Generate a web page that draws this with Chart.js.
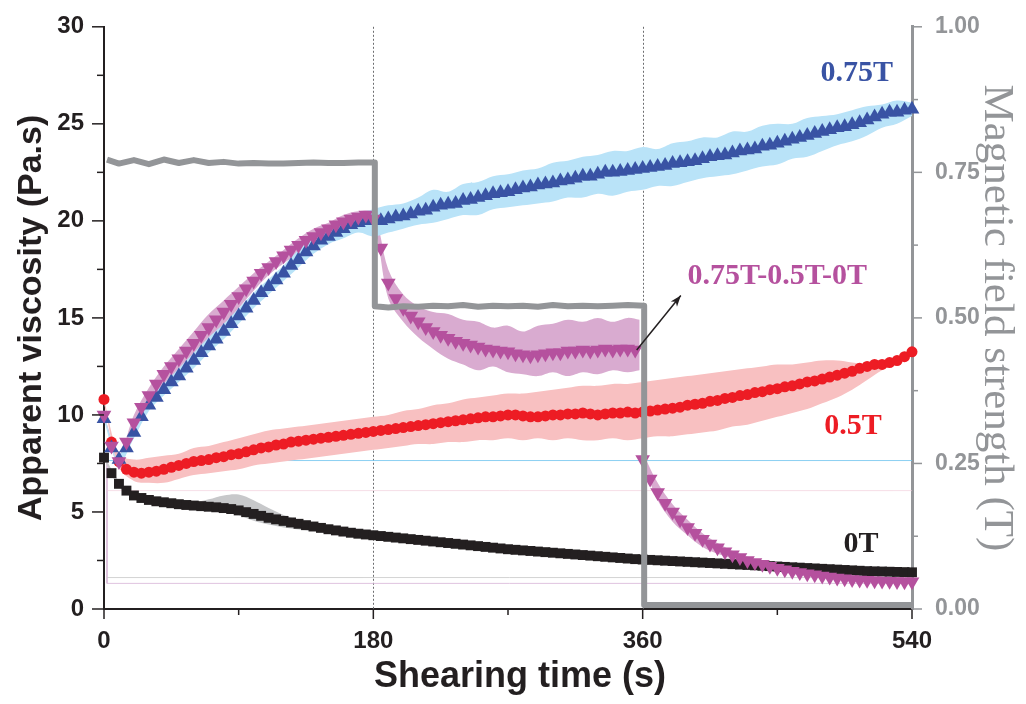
<!DOCTYPE html>
<html>
<head>
<meta charset="utf-8">
<script src="https://cdn.jsdelivr.net/npm/chart.js@4.4.0/dist/chart.umd.min.js"></script>
<style>
  html, body { margin: 0; padding: 0; background: #fff; }
  #wrap { width: 1026px; height: 704px; position: relative; }
</style>
</head>
<body>
<div id="wrap"><canvas id="viscChart"></canvas></div>
<script>
// sampling grid (s)
const times = Array.from({ length: 109 }, (_, i) => i * 5);
const bandTimes = Array.from({ length: 55 }, (_, i) => i * 10);

// axis ticks
const xTickValues = [0, 180, 360, 540];
const xMinorValues = [90, 270, 450];
const yTickValues = [0, 5, 10, 15, 20, 25, 30];
const yMinorValues = [2.5, 7.5, 12.5, 17.5, 22.5, 27.5];
const fieldTickValues = [0, 0.25, 0.5, 0.75, 1];
const fieldMinorValues = [0.125, 0.375, 0.625, 0.875];
const switchTimes = [180, 360];

// 0T
const visc0T = [
  7.8, 7.0, 6.45, 6.1, 5.85, 5.72, 5.62, 5.55, 5.5, 5.45,
  5.4, 5.36, 5.33, 5.3, 5.27, 5.24, 5.2, 5.15, 5.08, 4.99,
  4.9, 4.8, 4.7, 4.62, 4.54, 4.46, 4.39, 4.32, 4.25, 4.18,
  4.11, 4.05, 3.99, 3.93, 3.88, 3.84, 3.8, 3.76, 3.72, 3.68,
  3.64, 3.6, 3.56, 3.52, 3.48, 3.44, 3.4, 3.36, 3.32, 3.28,
  3.24, 3.2, 3.16, 3.12, 3.08, 3.05, 3.02, 2.99, 2.96, 2.93,
  2.9, 2.87, 2.84, 2.81, 2.78, 2.75, 2.72, 2.69, 2.66, 2.63,
  2.6, 2.57, 2.55, 2.53, 2.51, 2.49, 2.47, 2.45, 2.43, 2.41,
  2.39, 2.37, 2.35, 2.33, 2.31, 2.29, 2.27, 2.25, 2.23, 2.21,
  2.19, 2.17, 2.15, 2.13, 2.11, 2.09, 2.07, 2.05, 2.03, 2.01,
  1.99, 1.97, 1.95, 1.94, 1.93, 1.92, 1.91, 1.9, 1.89
];
// 0.5T
const visc05T = [
  10.8, 8.6, 7.6, 7.2, 7.05, 7.0, 7.05, 7.1, 7.2, 7.3,
  7.4, 7.5, 7.6, 7.65, 7.7, 7.8, 7.85, 7.95, 8.0, 8.1,
  8.2, 8.3, 8.35, 8.45, 8.5, 8.6, 8.65, 8.7, 8.75, 8.8,
  8.85, 8.9, 8.95, 9.0, 9.05, 9.1, 9.15, 9.2, 9.25, 9.3,
  9.35, 9.4, 9.45, 9.5, 9.55, 9.6, 9.65, 9.7, 9.75, 9.8,
  9.85, 9.9, 9.9, 9.95, 10.0, 10.0, 9.95, 9.9, 9.9, 9.95,
  10.0, 10.0, 10.05, 10.05, 10.1, 10.05, 10.0, 10.05, 10.1, 10.1,
  10.15, 10.1, 10.15, 10.2, 10.25, 10.3, 10.35, 10.4, 10.5, 10.55,
  10.6, 10.7, 10.75, 10.85, 10.9, 11.0, 11.05, 11.15, 11.2, 11.3,
  11.35, 11.45, 11.5, 11.6, 11.7, 11.75, 11.85, 11.95, 12.05, 12.15,
  12.25, 12.4, 12.5, 12.6, 12.6, 12.7, 12.8, 13.0, 13.25
];
// 0.75T
const visc075T = [
  9.8, 8.3, 7.7, 8.3, 9.1, 9.9, 10.5, 10.9, 11.3, 11.7,
  12.0, 12.4, 12.8, 13.2, 13.55, 13.9, 14.3, 14.7, 15.1, 15.5,
  15.9, 16.3, 16.6, 16.95, 17.3, 17.7, 18.0, 18.4, 18.7, 19.0,
  19.2, 19.4, 19.6, 19.8, 19.9, 20.0, 20.05, 20.0, 20.1, 20.2,
  20.25, 20.35, 20.5, 20.55, 20.7, 20.8, 20.85, 20.9, 21.05, 21.1,
  21.2, 21.3, 21.4, 21.45, 21.5, 21.6, 21.7, 21.75, 21.85, 21.9,
  21.95, 22.05, 22.1, 22.2, 22.3, 22.3, 22.4, 22.5, 22.5, 22.55,
  22.6, 22.65, 22.7, 22.75, 22.8, 22.85, 22.95, 23.0, 23.05, 23.1,
  23.2, 23.3, 23.35, 23.4, 23.5, 23.6, 23.65, 23.7, 23.85, 23.9,
  24.0, 24.1, 24.2, 24.3, 24.4, 24.5, 24.6, 24.7, 24.8, 24.85,
  24.95, 25.05, 25.2, 25.35, 25.5, 25.6, 25.6, 25.7, 25.75
];
// 0.75T-0.5T-0T
const viscSteps = [
  10.0, 8.4, 7.6, 8.6, 9.6, 10.4, 11.0, 11.6, 12.1, 12.5,
  12.9, 13.3, 13.7, 14.1, 14.5, 14.9, 15.3, 15.7, 16.1, 16.5,
  16.9, 17.3, 17.6, 17.9, 18.2, 18.5, 18.75, 19.0, 19.2, 19.4,
  19.6, 19.8, 19.95, 20.1, 20.2, 20.3, 20.1, 18.6, 16.8, 16.0,
  15.5, 15.1, 14.8, 14.5, 14.3, 14.1, 13.95, 13.8, 13.7, 13.6,
  13.5, 13.4, 13.35, 13.3, 13.25, 13.15, 13.1, 13.05, 13.1, 13.15,
  13.2, 13.2, 13.3, 13.3, 13.35, 13.3, 13.35, 13.4, 13.35, 13.4,
  13.4, 13.35, 7.7, 6.7, 6.0, 5.45, 5.0, 4.6, 4.2, 3.9,
  3.6, 3.35, 3.15, 2.95, 2.8, 2.65, 2.5, 2.4, 2.3, 2.2,
  2.1, 2.02, 1.95, 1.88, 1.82, 1.76, 1.7, 1.65, 1.6, 1.56,
  1.52, 1.5, 1.48, 1.46, 1.44, 1.43, 1.42, 1.41, 1.4
];

// error bands (every 10 s)
const band0THi = [
  7.9, 6.6, 5.95, 5.72, 5.6, 5.52, 5.5, 5.65, 5.85, 5.9, 5.6,
  5.2, 4.85, 4.6, 4.4, 4.25, 4.1, 3.95, 3.88, 3.8, 3.72, 3.64,
  3.56, 3.48, 3.4, 3.32, 3.24, 3.16, 3.1, 3.04, 2.98, 2.92, 2.86,
  2.8, 2.74, 2.68, 2.63, 2.59, 2.55, 2.51, 2.47, 2.43, 2.39, 2.35,
  2.31, 2.27, 2.23, 2.19, 2.15, 2.11, 2.07, 2.03, 2.01, 1.99, 1.97
];
const band0TLo = [
  7.7, 6.3, 5.75, 5.5, 5.4, 5.3, 5.2, 5.15, 5.05, 4.85, 4.55,
  4.35, 4.2, 4.1, 4.02, 3.95, 3.85, 3.75, 3.72, 3.64, 3.56, 3.48,
  3.4, 3.32, 3.24, 3.16, 3.08, 3.0, 2.94, 2.88, 2.82, 2.76, 2.7,
  2.64, 2.58, 2.52, 2.47, 2.43, 2.39, 2.35, 2.31, 2.27, 2.23, 2.19,
  2.15, 2.11, 2.07, 2.03, 1.99, 1.95, 1.91, 1.87, 1.85, 1.83, 1.81
];
const band05THi = [
  10.8, 8.0, 7.7, 7.8, 7.9, 8.0, 8.3, 8.4, 8.6, 8.8, 9.0,
  9.2, 9.3, 9.4, 9.5, 9.6, 9.7, 9.8, 9.9, 10.0, 10.2, 10.3,
  10.5, 10.6, 10.8, 10.9, 11.0, 11.1, 11.1, 11.2, 11.3, 11.4, 11.5,
  11.5, 11.6, 11.6, 11.7, 11.8, 11.9, 12.0, 12.1, 12.2, 12.3, 12.4,
  12.5, 12.6, 12.6, 12.7, 12.8, 12.8, 12.7, 12.6, 12.7, 12.9, 13.3
];
const band05TLo = [
  10.6, 7.3, 6.6, 6.5, 6.5, 6.7, 6.9, 7.0, 7.1, 7.2, 7.4,
  7.5, 7.6, 7.7, 7.8, 7.9, 8.0, 8.1, 8.2, 8.3, 8.4, 8.5,
  8.5, 8.6, 8.6, 8.7, 8.7, 8.8, 8.7, 8.8, 8.7, 8.8, 8.7,
  8.7, 8.8, 8.7, 8.8, 8.9, 8.9, 9.0, 9.1, 9.2, 9.4, 9.5,
  9.7, 9.9, 10.1, 10.3, 10.6, 10.9, 11.3, 11.8, 12.3, 12.7, 13.2
];
const band075THi = [
  9.9, 8.0, 9.5, 10.8, 11.6, 12.4, 13.2, 14.0, 14.7, 15.5, 16.3,
  17.0, 17.7, 18.5, 19.1, 19.7, 20.1, 20.4, 20.6, 20.8, 20.9, 21.2,
  21.6, 21.5, 21.9, 22.0, 22.3, 22.4, 22.6, 22.7, 23.0, 23.1, 23.3,
  23.4, 23.6, 23.6, 23.8, 23.7, 24.0, 24.1, 24.3, 24.3, 24.6, 24.6,
  24.9, 25.0, 25.0, 25.3, 25.4, 25.5, 25.7, 25.9, 26.0, 26.2, 26.1
];
const band075TLo = [
  9.7, 7.5, 8.8, 10.2, 11.0, 11.7, 12.4, 13.2, 13.9, 14.7, 15.5,
  16.2, 16.9, 17.6, 18.3, 18.8, 19.1, 19.4, 19.2, 19.4, 19.6, 19.8,
  19.9, 20.1, 20.3, 20.3, 20.6, 20.7, 20.8, 20.9, 21.0, 21.2, 21.2,
  21.4, 21.3, 21.5, 21.6, 21.8, 21.8, 22.0, 22.2, 22.3, 22.4, 22.6,
  22.8, 22.9, 23.2, 23.3, 23.6, 23.9, 24.1, 24.4, 24.8, 25.0, 25.4
];
const stepBandTimesA = [
  0, 10, 20, 30, 40, 50, 60, 70, 80, 90, 100,
  110, 120, 130, 140, 150, 160, 170, 180, 190, 200, 210,
  220, 230, 240, 250, 260, 270, 280, 290, 300, 310, 320,
  330, 340, 350, 358
];
const stepBandHiA = [
  10.0, 8.0, 10.0, 11.4, 12.5, 13.4, 14.3, 15.2, 15.9, 16.6, 17.3,
  17.9, 18.5, 19.1, 19.6, 19.9, 20.3, 20.5, 20.4, 17.5, 16.2, 15.6,
  15.3, 15.2, 14.9, 14.8, 14.5, 14.6, 14.3, 14.6, 14.7, 14.9, 14.8,
  15.0, 14.8, 15.0, 14.9
];
const stepBandLoA = [
  10.0, 7.4, 9.2, 10.6, 11.6, 12.3, 13.0, 13.8, 14.6, 15.5, 16.4,
  17.2, 17.8, 18.3, 18.7, 19.2, 19.5, 19.7, 19.7, 16.0, 14.8, 14.0,
  13.4, 12.9, 12.6, 12.3, 12.5, 12.2, 12.1, 12.0, 12.2, 12.0, 12.2,
  12.1, 12.3, 12.2, 12.3
];
const stepBandTimesB = [361, 370, 380, 390, 400, 410, 420, 430, 440, 450, 460, 470, 480, 490, 500, 510, 520, 530, 540];
const stepBandHiB = [7.9, 6.5, 5.4, 4.6, 3.9, 3.4, 3.0, 2.7, 2.45, 2.25, 2.05, 1.9, 1.78, 1.68, 1.6, 1.55, 1.5, 1.47, 1.45];
const stepBandLoB = [7.4, 5.6, 4.5, 3.8, 3.2, 2.85, 2.6, 2.35, 2.15, 1.95, 1.8, 1.7, 1.6, 1.52, 1.45, 1.4, 1.37, 1.35, 1.33];

// applied magnetic field (T), right axis
const fieldTimes = [
  2, 10, 20, 30, 40, 50, 60, 70, 80, 90, 100, 110, 120, 130, 140, 150, 160, 170, 181,
  181, 190, 200, 210, 220, 230, 240, 250, 260, 270, 280, 290, 300, 310, 320, 330, 340, 350, 361,
  361, 370, 380, 390, 400, 410, 420, 430, 440, 450, 460, 470, 480, 490, 500, 510, 520, 530, 540
];
const fieldValues = [
  0.772, 0.765, 0.771, 0.764, 0.772, 0.766, 0.771, 0.766, 0.768, 0.765, 0.766, 0.765, 0.765, 0.766, 0.767, 0.766, 0.766, 0.767, 0.767,
  0.52, 0.518, 0.52, 0.519, 0.521, 0.52, 0.522, 0.519, 0.521, 0.52, 0.521, 0.519, 0.522, 0.52, 0.521, 0.52, 0.521, 0.522, 0.521,
  0.007, 0.007, 0.007, 0.007, 0.007, 0.007, 0.007, 0.007, 0.007, 0.007, 0.007, 0.007, 0.007, 0.007, 0.007, 0.007, 0.007, 0.007, 0.007
];

// faint baseline traces seen in the original
const traceBlueT = [0, 540], traceBlueV = [7.65, 7.65];
const tracePinkT = [2, 540], tracePinkV = [6.1, 6.1];
const traceGreyT = [2, 540], traceGreyV = [1.62, 1.62];
const traceLilacT = [2, 2, 540], traceLilacV = [7.6, 1.32, 1.32];

const seriesLabels = [
  { text: '0.75T', t: 503, v: 27.6, color: '#3953a4' },
  { text: '0.75T-0.5T-0T', t: 450, v: 17.15, color: '#b5519e' },
  { text: '0.5T', t: 500.5, v: 9.4, color: '#ed1c24' },
  { text: '0T', t: 506, v: 3.35, color: '#231f20' }
];
const arrowFrom = { t: 356, v: 13.35 }, arrowTo = { t: 385.5, v: 16.15 };

const pts = (xs, ys) => ys.map((y, i) => ({ x: xs[i], y: y }));

function band(xs, hi, lo, color) {
  return [
    { data: pts(xs, hi), borderWidth: 0, pointRadius: 0, backgroundColor: color, fill: '+1', tension: 0.35, order: 20 },
    { data: pts(xs, lo), borderWidth: 0, pointRadius: 0, fill: false, tension: 0.35, order: 20 }
  ];
}
function markers(ys, color, style, radius, rotation, order) {
  return {
    data: pts(times, ys), showLine: false, pointStyle: style, pointRadius: radius,
    pointRotation: rotation, pointBackgroundColor: color, pointBorderWidth: 0,
    borderColor: color, clip: false, order: order
  };
}
function trace(xs, ys, color) {
  return { data: pts(xs, ys), borderColor: color, borderWidth: 1, pointRadius: 0, fill: false, order: 30 };
}

const FONT_SANS = "'Liberation Sans', Arial, sans-serif";
const FONT_SERIF = "'Liberation Serif', 'Times New Roman', serif";

const decorations = {
  id: 'decorations',
  beforeDatasetsDraw(chart) {
    const { ctx, chartArea: a, scales: { x } } = chart;
    ctx.save();
    ctx.strokeStyle = '#6d6e71';
    ctx.lineWidth = 1;
    ctx.setLineDash([2, 2]);
    switchTimes.forEach(t => {
      const px = Math.round(x.getPixelForValue(t)) + 0.5;
      ctx.beginPath();
      ctx.moveTo(px, a.top);
      ctx.lineTo(px, a.bottom);
      ctx.stroke();
    });
    ctx.restore();
  },
  afterDraw(chart) {
    const { ctx, chartArea: a, scales: { x, y, y1 } } = chart;
    ctx.save();
    // tick marks
    ctx.lineWidth = 1.5;
    ctx.strokeStyle = '#231f20';
    const tick = (x0, y0, x1, y1_) => { ctx.beginPath(); ctx.moveTo(x0, y0); ctx.lineTo(x1, y1_); ctx.stroke(); };
    yTickValues.forEach(v => { const p = y.getPixelForValue(v); tick(a.left - 12, p, a.left, p); });
    yMinorValues.forEach(v => { const p = y.getPixelForValue(v); tick(a.left - 7, p, a.left, p); });
    xTickValues.forEach(t => { const p = x.getPixelForValue(t); tick(p, a.bottom, p, a.bottom + 10); });
    xMinorValues.forEach(t => { const p = x.getPixelForValue(t); tick(p, a.bottom, p, a.bottom + 6); });
    ctx.strokeStyle = '#939598';
    fieldTickValues.forEach(v => { const p = y1.getPixelForValue(v); tick(a.right, p, a.right + 10, p); });
    fieldMinorValues.forEach(v => { const p = y1.getPixelForValue(v); tick(a.right, p, a.right + 6, p); });

    // x axis title
    ctx.fillStyle = '#231f20';
    ctx.font = 'bold 36px ' + FONT_SANS;
    ctx.textAlign = 'center';
    ctx.textBaseline = 'middle';
    ctx.fillText('Shearing time (s)', 520, 677);

    // series labels
    ctx.font = 'bold 30px ' + FONT_SERIF;
    seriesLabels.forEach(l => {
      ctx.fillStyle = l.color;
      ctx.fillText(l.text, x.getPixelForValue(l.t), y.getPixelForValue(l.v));
    });

    // arrow
    const x0 = x.getPixelForValue(arrowFrom.t), y0 = y.getPixelForValue(arrowFrom.v);
    const x1 = x.getPixelForValue(arrowTo.t), yy1 = y.getPixelForValue(arrowTo.v);
    const ang = Math.atan2(yy1 - y0, x1 - x0);
    ctx.strokeStyle = '#231f20';
    ctx.fillStyle = '#231f20';
    ctx.lineWidth = 1.5;
    ctx.beginPath(); ctx.moveTo(x0, y0); ctx.lineTo(x1, yy1); ctx.stroke();
    ctx.beginPath();
    ctx.moveTo(x1, yy1);
    ctx.lineTo(x1 - 11 * Math.cos(ang) + 4 * Math.sin(ang), yy1 - 11 * Math.sin(ang) - 4 * Math.cos(ang));
    ctx.lineTo(x1 - 8 * Math.cos(ang), yy1 - 8 * Math.sin(ang));
    ctx.lineTo(x1 - 11 * Math.cos(ang) - 4 * Math.sin(ang), yy1 - 11 * Math.sin(ang) + 4 * Math.cos(ang));
    ctx.closePath();
    ctx.fill();
    ctx.restore();
  }
};

new Chart(document.getElementById('viscChart'), {
  type: 'line',
  data: {
    datasets: [
      { ...markers(viscSteps, '#b5519e', 'triangle', 8.5, 180, 2), label: '0.75T-0.5T-0T' },
      { data: pts(fieldTimes, fieldValues), yAxisID: 'y1', borderColor: '#939598', borderWidth: 6,
        pointRadius: 0, fill: false, tension: 0, borderJoinStyle: 'round', order: 1, label: 'Magnetic field' },
      { ...markers(visc075T, '#3953a4', 'triangle', 8.5, 0, 3), label: '0.75T' },
      { ...markers(visc05T, '#ed1c24', 'circle', 5.5, 0, 4), label: '0.5T' },
      { ...markers(visc0T, '#231f20', 'rect', 7, 0, 5), label: '0T' },
      ...band(bandTimes, band0THi, band0TLo, '#c7c8ca'),
      ...band(bandTimes, band05THi, band05TLo, '#f8c0c1'),
      ...band(bandTimes, band075THi, band075TLo, '#b9e3f8'),
      ...band(stepBandTimesA, stepBandHiA, stepBandLoA, '#d9abd0'),
      ...band(stepBandTimesB, stepBandHiB, stepBandLoB, '#d9abd0'),
      trace(traceBlueT, traceBlueV, 'rgba(120,200,240,0.85)'),
      trace(tracePinkT, tracePinkV, 'rgba(240,200,215,0.6)'),
      trace(traceGreyT, traceGreyV, 'rgba(200,200,200,0.8)'),
      trace(traceLilacT, traceLilacV, 'rgba(215,180,215,0.8)')
    ]
  },
  options: {
    responsive: true,
    maintainAspectRatio: false,
    devicePixelRatio: 1,
    animation: false,
    layout: { padding: { top: 18, left: 0, right: 0, bottom: 0 } },
    plugins: { legend: { display: false }, tooltip: { enabled: false } },
    scales: {
      x: {
        type: 'linear', min: 0, max: 540,
        afterBuildTicks: s => { s.ticks = xTickValues.map(value => ({ value })); },
        afterFit: s => { s.height = 95; },
        grid: { drawOnChartArea: false, tickLength: 10, color: 'rgba(0,0,0,0)', tickColor: 'rgba(0,0,0,0)' },
        border: { color: '#231f20', width: 2 },
        ticks: { padding: 8, color: '#231f20', maxRotation: 0, autoSkip: false,
                 font: { family: FONT_SANS, weight: 'bold', size: 24 } }
      },
      y: {
        position: 'left', min: 0, max: 30,
        afterBuildTicks: s => { s.ticks = yTickValues.map(value => ({ value })); },
        afterFit: s => { s.width = 104; },
        grid: { drawOnChartArea: false, tickLength: 12, color: 'rgba(0,0,0,0)', tickColor: 'rgba(0,0,0,0)' },
        border: { color: '#231f20', width: 2 },
        ticks: { padding: 8, color: '#231f20', font: { family: FONT_SANS, weight: 'bold', size: 24 } },
        title: { display: true, text: 'Apparent viscosity (Pa.s)', color: '#231f20',
                 padding: { top: 11, bottom: 0 }, font: { family: FONT_SANS, weight: 'bold', size: 34 } }
      },
      y1: {
        position: 'right', min: 0, max: 1,
        afterBuildTicks: s => { s.ticks = fieldTickValues.map(value => ({ value })); },
        afterFit: s => { s.width = 114; },
        grid: { drawOnChartArea: false, tickLength: 10, color: 'rgba(0,0,0,0)', tickColor: 'rgba(0,0,0,0)' },
        border: { color: '#939598', width: 3 },
        ticks: { padding: 13, color: '#939598', callback: v => v.toFixed(2),
                 font: { family: FONT_SANS, weight: 'bold', size: 23 } },
        title: { display: true, text: 'Magnetic field strength (T)', color: '#939598',
                 padding: { top: 4, bottom: 0 }, font: { family: FONT_SERIF, weight: 'normal', size: 43 } }
      }
    }
  },
  plugins: [decorations]
});
</script>
</body>
</html>
